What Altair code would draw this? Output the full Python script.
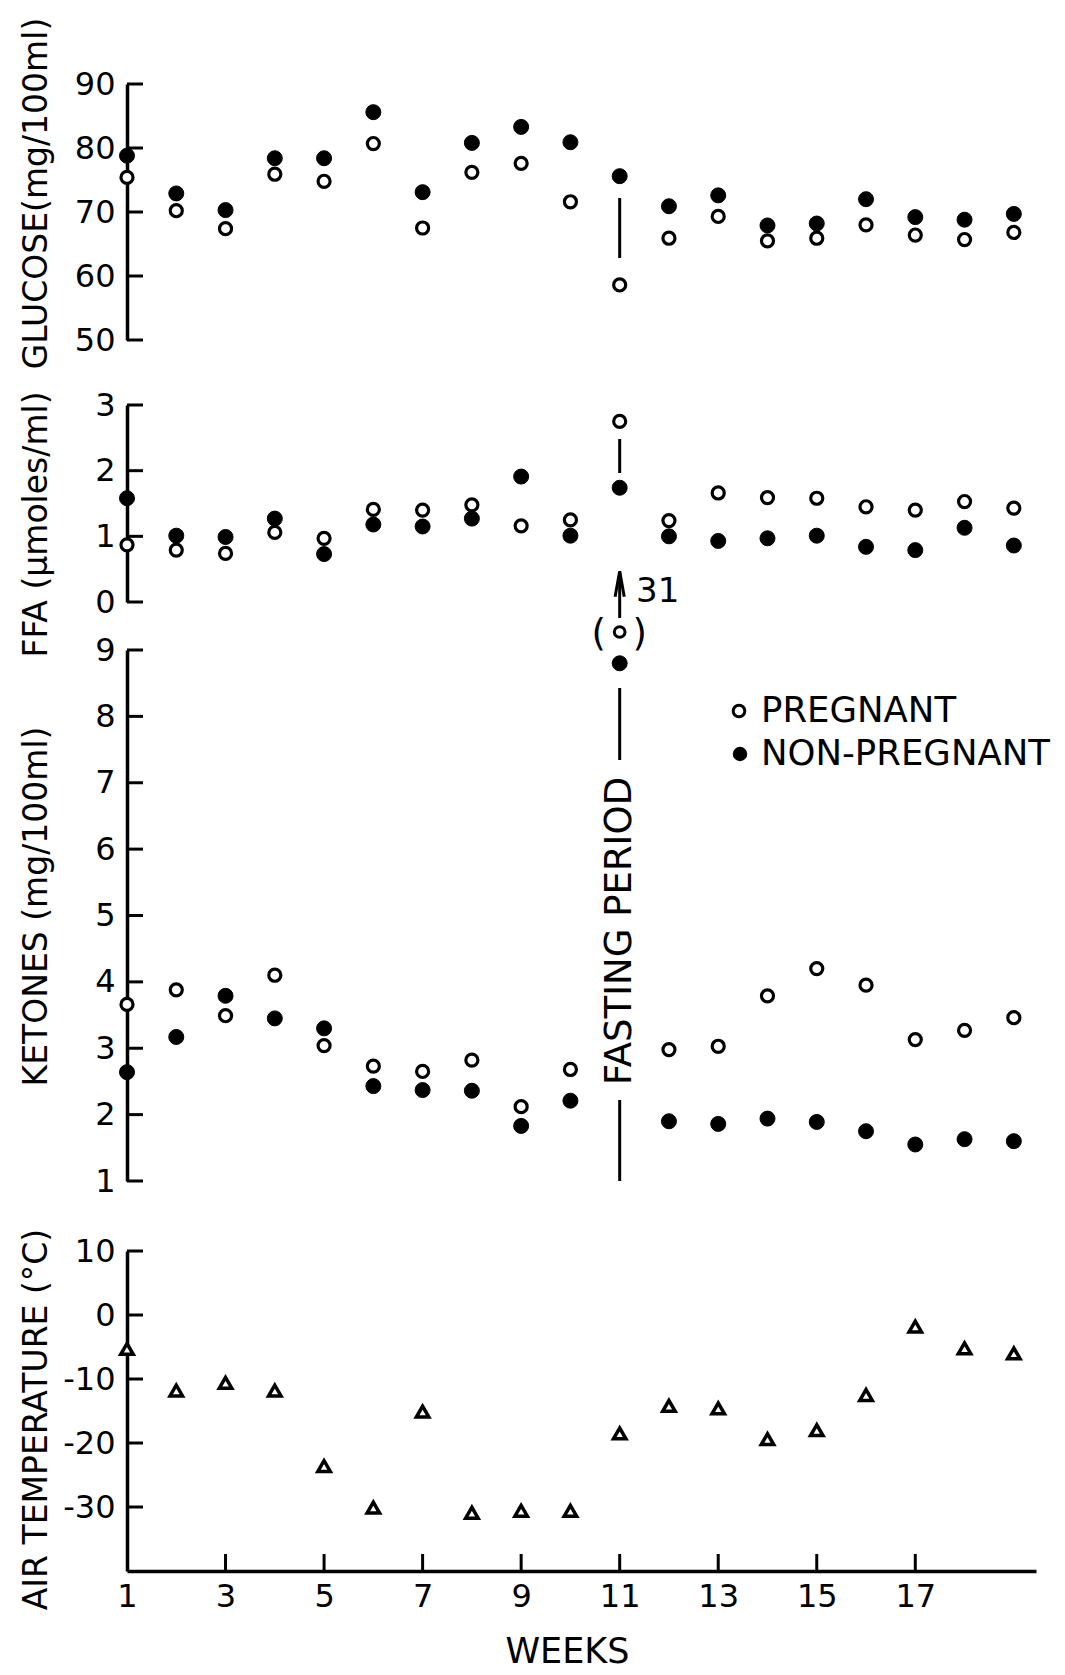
import altair as alt
import pandas as pd

# ---- data -------------------------------------------------------------
weeks = list(range(1, 20))

glucose_pregnant = [75.4, 70.2, 67.4, 75.9, 74.8, 80.7, 67.5, 76.2, 77.6, 71.6,
                    58.6, 65.9, 69.3, 65.5, 65.9, 68.0, 66.4, 65.7, 66.8]
glucose_non_pregnant = [78.8, 72.9, 70.3, 78.4, 78.4, 85.6, 73.1, 80.8, 83.3, 80.9,
                        75.6, 70.9, 72.6, 67.9, 68.2, 72.0, 69.2, 68.8, 69.7]

ffa_pregnant = [0.87, 0.79, 0.74, 1.06, 0.97, 1.41, 1.40, 1.48, 1.16, 1.25,
                2.75, 1.24, 1.66, 1.59, 1.58, 1.45, 1.40, 1.53, 1.43]
ffa_non_pregnant = [1.58, 1.01, 0.99, 1.27, 0.73, 1.18, 1.15, 1.27, 1.91, 1.01,
                    1.74, 1.00, 0.93, 0.97, 1.01, 0.84, 0.79, 1.13, 0.86]

# week 11 pregnant ketones (31 mg/100ml) lies far above the axis
ketones_pregnant = [3.66, 3.88, 3.49, 4.10, 3.04, 2.73, 2.65, 2.82, 2.12, 2.68,
                    31.0, 2.98, 3.03, 3.79, 4.20, 3.95, 3.13, 3.27, 3.46]
ketones_non_pregnant = [2.64, 3.17, 3.79, 3.45, 3.30, 2.43, 2.37, 2.36, 1.83, 2.21,
                        8.80, 1.90, 1.86, 1.94, 1.89, 1.75, 1.55, 1.63, 1.60]

air_temperature = [-5.3, -11.8, -10.6, -11.8, -23.6, -30.1, -15.1, -30.9, -30.6, -30.6,
                   -18.5, -14.2, -14.6, -19.4, -18.0, -12.5, -1.8, -5.2, -6.0]

glucose_ticks = [90, 80, 70, 60, 50]
ffa_ticks = [3, 2, 1, 0]
ketone_ticks = [9, 8, 7, 6, 5, 4, 3, 2, 1]
temperature_ticks = [10, 0, -10, -20, -30]
week_labels = [1, 3, 5, 7, 9, 11, 13, 15, 17]
week_ticks = [3, 5, 7, 9, 11, 13, 15, 17]
legend_labels = ["PREGNANT", "NON-PREGNANT"]
fasting_week = 11
off_scale_label = "31"

# ---- styling ----------------------------------------------------------
FONT = "DejaVu Sans"
PLOT_W = 909
AXIS_W = 3.5
x_scale = alt.Scale(domain=[1, 19.45], nice=False, zero=False)


def frame(values):
    return pd.DataFrame({"week": weeks, "v": values})


one_row = pd.DataFrame({"k": [0]})


def y_axis(title, values, title_y, **extra):
    return alt.Axis(
        title=title, values=values, grid=False, ticks=False, tickSize=0,
        domainColor="black", domainWidth=AXIS_W, labelPadding=12,
        labelFontSize=32, labelFont=FONT, labelColor="black",
        labelFlush=False, labelOverlap=False, labelBound=False,
        titleFont=FONT, titleFontSize=33, titleFontWeight="normal", titleColor="black",
        titleAngle=-90, titleX=-81, titleY=title_y, titleAlign="center",
        titleBaseline="alphabetic", **extra)


def y_enc(domain, rng, axis, clamp=False):
    return alt.Y("v:Q", scale=alt.Scale(domain=domain, range=rng, nice=False,
                                        zero=False, clamp=clamp), axis=axis)


x_hidden = alt.X("week:Q", scale=x_scale, axis=None)
x_fast = alt.XDatum(fasting_week, scale=x_scale, axis=None)


def tick_layer(values, y):
    return alt.Chart(pd.DataFrame({"v": values})).mark_rule(
        color="black", strokeWidth=3).encode(y=y, x=alt.value(0), x2=alt.value(16))


def filled_dots(values, y, x=x_hidden, size=225):
    return alt.Chart(frame(values)).mark_point(
        shape="circle", filled=True, fill="black", stroke="black", strokeWidth=1,
        size=size, opacity=1).encode(x=x, y=y)


def open_dots(values, y, x=x_hidden):
    return alt.Chart(frame(values)).mark_point(
        shape="circle", filled=True, fill="white", stroke="black", strokeWidth=3.2,
        size=145, opacity=1).encode(x=x, y=y)


def vline(y_top, y_bottom):
    return alt.Chart(one_row).mark_rule(color="black", strokeWidth=3).encode(
        x=x_fast, y=alt.value(y_top), y2=alt.value(y_bottom))


# ---- glucose ----------------------------------------------------------
g_y = y_enc([50, 90], [256, 0], y_axis("GLUCOSE(mg/100ml)", glucose_ticks, 109))
glucose = alt.layer(
    tick_layer(glucose_ticks, g_y),
    vline(114, 174),
    filled_dots(glucose_non_pregnant, g_y),
    open_dots(glucose_pregnant, g_y),
).properties(width=PLOT_W, height=321)

# ---- free fatty acids -------------------------------------------------
f_y = y_enc([0, 3], [197, 0], y_axis("FFA (\u03bcmoles/ml)", ffa_ticks, 119))
ffa = alt.layer(
    tick_layer(ffa_ticks, f_y),
    vline(34, 68),
    filled_dots(ffa_non_pregnant, f_y),
    open_dots(ffa_pregnant, f_y),
).properties(width=PLOT_W, height=245)

# ---- ketones ----------------------------------------------------------
k_y = y_enc([1, 9], [531, 0], y_axis("KETONES (mg/100ml)", ketone_ticks, 256), clamp=True)

k_open = alt.Chart(frame(ketones_pregnant)).transform_filter(
    f"datum.week != {fasting_week}").mark_point(
    shape="circle", filled=True, fill="white", stroke="black", strokeWidth=3.2,
    size=145, opacity=1).encode(x=x_hidden, y=k_y)

# off-scale value, pinned above the top of the axis
k_open_off = alt.Chart(frame(ketones_pregnant)).transform_filter(
    f"datum.week == {fasting_week}").mark_point(
    shape="circle", filled=True, fill="white", stroke="black", strokeWidth=3,
    size=115, opacity=1, yOffset=-18).encode(x=x_hidden, y=k_y)

paren_left = alt.Chart(one_row).mark_text(
    text="(", font=FONT, fontSize=37, dx=-21, baseline="middle", color="black").encode(
    x=x_fast, y=alt.value(-15))
paren_right = alt.Chart(one_row).mark_text(
    text=")", font=FONT, fontSize=37, dx=20, baseline="middle", color="black").encode(
    x=x_fast, y=alt.value(-15))
arrow_shaft = alt.Chart(one_row).mark_rule(color="black", strokeWidth=3).encode(
    x=x_fast, y=alt.value(-32), y2=alt.value(-78))
arrow_head = alt.Chart(one_row).mark_point(
    shape="M-0.36,1L0,-1L0.36,1", filled=False, stroke="black", strokeWidth=3,
    size=650, opacity=1).encode(x=x_fast, y=alt.value(-66))
value_note = alt.Chart(one_row).mark_text(
    text=off_scale_label, font=FONT, fontSize=34, dx=38, baseline="middle",
    color="black").encode(x=x_fast, y=alt.value(-58))

fast_top = vline(38, 110)
fast_bottom = vline(450, 531)
fast_text = alt.Chart(one_row).mark_text(
    text="FASTING PERIOD", font=FONT, fontSize=37, angle=270, align="center",
    baseline="middle", color="black").encode(x=x_fast, y=alt.value(281))

legend_open = alt.Chart(one_row).mark_point(
    shape="circle", filled=True, fill="white", stroke="black", strokeWidth=3,
    size=135, opacity=1).encode(x=alt.value(612), y=alt.value(61))
legend_filled = alt.Chart(one_row).mark_point(
    shape="circle", filled=True, fill="black", size=210, opacity=1).encode(
    x=alt.value(613), y=alt.value(104))
legend_text_1 = alt.Chart(one_row).mark_text(
    text=legend_labels[0], font=FONT, fontSize=35.5, align="left", baseline="middle",
    color="black").encode(x=alt.value(634), y=alt.value(61))
legend_text_2 = alt.Chart(one_row).mark_text(
    text=legend_labels[1], font=FONT, fontSize=35.5, align="left", baseline="middle",
    color="black").encode(x=alt.value(634), y=alt.value(104))

ketones = alt.layer(
    tick_layer(ketone_ticks, k_y),
    fast_top, fast_bottom, fast_text,
    filled_dots(ketones_non_pregnant, k_y),
    k_open, k_open_off, paren_left, paren_right,
    arrow_shaft, arrow_head, value_note,
    legend_open, legend_filled, legend_text_1, legend_text_2,
).properties(width=PLOT_W, height=601)

# ---- air temperature --------------------------------------------------
x_axis = alt.Axis(
    title="WEEKS", values=week_labels, grid=False, ticks=False, tickSize=0,
    domainColor="black", domainWidth=AXIS_W, labelPadding=10, labelFontSize=32,
    labelFont=FONT, labelColor="black", labelFlush=False, labelOverlap=False,
    titleFont=FONT, titleFontSize=35, titleFontWeight="normal", titleColor="black",
    titleX=440, titleY=91, titleAlign="center", titleBaseline="alphabetic")
x_weeks = alt.X("week:Q", scale=x_scale, axis=x_axis)

t_y = y_enc([-40, 10], [320, 0],
            y_axis("AIR TEMPERATURE (\u00b0C)", temperature_ticks, 168,
                   labelExpr="'' + datum.value"))

week_tick_layer = alt.Chart(pd.DataFrame({"week": week_ticks})).mark_rule(
    color="black", strokeWidth=3).encode(x=x_weeks, y=alt.value(320), y2=alt.value(303))

temp_points = alt.Chart(frame(air_temperature)).mark_point(
    shape="triangle-up", filled=True, fill="white", stroke="black", strokeWidth=3.5,
    size=155, opacity=1).encode(x=x_weeks, y=t_y)

temperature = alt.layer(
    tick_layer(temperature_ticks, t_y),
    week_tick_layer,
    temp_points,
).properties(width=PLOT_W, height=320)

chart = alt.vconcat(
    glucose, ffa, ketones, temperature, spacing=0, bounds="flush"
).resolve_scale(y="independent").properties(
    padding={"left": 19, "top": 17, "right": 5, "bottom": 4},
    background="white",
).configure_view(stroke=None)

chart.save("out.html", embed_options={"renderer": "svg", "actions": False})
